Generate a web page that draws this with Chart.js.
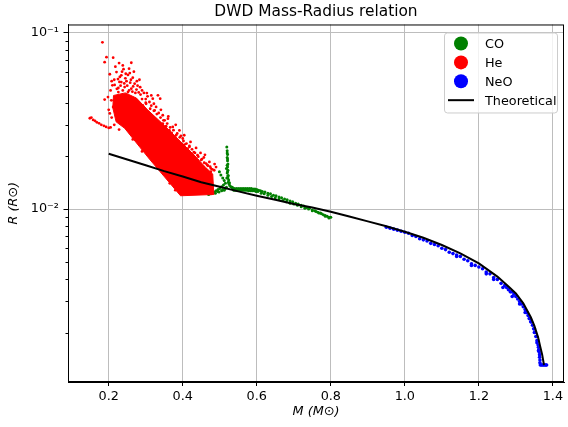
<!DOCTYPE html>
<html>
<head>
<meta charset="utf-8">
<title>DWD Mass-Radius relation</title>
<script src="https://cdn.jsdelivr.net/npm/chart.js@4.4.0/dist/chart.umd.min.js"></script>
<style>
  body { margin: 0; background: #fff; }
  #wrap { width: 568px; height: 427px; }
</style>
</head>
<body>
<div id="wrap"><canvas id="mr-chart" width="568" height="427"></canvas></div>
<script>
// tick labels
var massTicks = [0.2, 0.4, 0.6, 0.8, 1.0, 1.2, 1.4];
var radiusMajor = [0.01, 0.1];
var radiusTicks = [0.002, 0.003, 0.004, 0.005, 0.006, 0.007, 0.008, 0.009, 0.01,
                   0.02, 0.03, 0.04, 0.05, 0.06, 0.07, 0.08, 0.09, 0.1];

// Theoretical curve [M, R]
var theoryCurve = [
  [0.200, 0.0206], [0.250, 0.0191], [0.300, 0.0177], [0.350, 0.0164], [0.400, 0.0153],
  [0.450, 0.0142], [0.500, 0.0134], [0.550, 0.0126], [0.600, 0.0119], [0.650, 0.0113],
  [0.700, 0.0107], [0.750, 0.0102], [0.800, 0.00966], [0.850, 0.00908], [0.900, 0.00852],
  [0.950, 0.00800], [1.000, 0.00745], [1.050, 0.00688], [1.100, 0.00626], [1.150, 0.00562],
  [1.200, 0.00493], [1.250, 0.00415], [1.280, 0.00365], [1.300, 0.00333], [1.320, 0.00293],
  [1.340, 0.00245], [1.350, 0.00218], [1.360, 0.00188], [1.366, 0.00166], [1.371, 0.00150],
  [1.376, 0.00131]
];

// He: dense core outline [M, R]
var heCore = [
  [0.213, 0.0440], [0.245, 0.0455], [0.275, 0.0425], [0.305, 0.0365], [0.350, 0.0298],
  [0.395, 0.0240], [0.433, 0.0200], [0.462, 0.0172], [0.481, 0.0158], [0.484, 0.0121],
  [0.394, 0.0119], [0.310, 0.0192], [0.243, 0.0287], [0.220, 0.0312], [0.211, 0.0375],
  [0.213, 0.0440]
];

// He: scattered stars [M, R]
var hePoints = [
  [0.183, 0.088], [0.194, 0.0725], [0.189, 0.0679], [0.212, 0.0720], [0.228, 0.0671],
  [0.238, 0.0651], [0.261, 0.0674], [0.255, 0.0624], [0.221, 0.0597], [0.234, 0.0572],
  [0.246, 0.0584], [0.257, 0.0589], [0.283, 0.0540], [0.270, 0.0513], [0.234, 0.0524],
  [0.210, 0.0502], [0.243, 0.0491], [0.261, 0.0481], [0.303, 0.0454], [0.333, 0.0441],
  [0.339, 0.0422], [0.319, 0.0422], [0.189, 0.0417], [0.198, 0.0431], [0.214, 0.0413],
  [0.292, 0.0387], [0.310, 0.0404], [0.328, 0.0379], [0.225, 0.0545], [0.248, 0.0530],
  [0.265, 0.0555], [0.278, 0.0500], [0.290, 0.0470], [0.226, 0.0485], [0.252, 0.0460],
  [0.272, 0.0455], [0.240, 0.0620], [0.218, 0.0640], [0.286, 0.0445], [0.300, 0.0420],
  [0.315, 0.0440], [0.205, 0.0470], [0.215, 0.0540], [0.203, 0.0580],
  [0.222, 0.0480], [0.232, 0.0500], [0.242, 0.0515], [0.250, 0.0500], [0.258, 0.0520],
  [0.266, 0.0495], [0.275, 0.0475], [0.285, 0.0490], [0.295, 0.0455], [0.305, 0.0435],
  [0.230, 0.0560], [0.245, 0.0550], [0.260, 0.0540], [0.268, 0.0600], [0.276, 0.0530],
  [0.236, 0.0600], [0.252, 0.0575], [0.208, 0.0530], [0.216, 0.0505], [0.226, 0.0460],
  [0.238, 0.0470], [0.255, 0.0470], [0.264, 0.0462], [0.281, 0.0458], [0.229, 0.0525],
  [0.301, 0.0395], [0.324, 0.0362], [0.346, 0.0340], [0.360, 0.0325], [0.346, 0.0305],
  [0.373, 0.0292], [0.391, 0.0279], [0.382, 0.0262], [0.400, 0.0251], [0.378, 0.0246],
  [0.409, 0.0211], [0.418, 0.0211], [0.396, 0.0225], [0.427, 0.0197], [0.440, 0.0189],
  [0.445, 0.0181], [0.454, 0.0173], [0.463, 0.0166], [0.476, 0.0170], [0.440, 0.0202],
  [0.490, 0.0173], [0.431, 0.0181], [0.418, 0.0225], [0.351, 0.0318], [0.364, 0.0279],
  [0.413, 0.0220], [0.463, 0.0181], [0.476, 0.0163], [0.423, 0.0189], [0.485, 0.0166],
  [0.335, 0.0350], [0.312, 0.0370], [0.355, 0.0295], [0.370, 0.0270], [0.388, 0.0240],
  [0.405, 0.0232], [0.452, 0.0192], [0.468, 0.0176], [0.430, 0.0210], [0.395, 0.0260],
  [0.290, 0.0420], [0.300, 0.0400], [0.315, 0.0385], [0.322, 0.0360], [0.330, 0.0345],
  [0.340, 0.0330], [0.348, 0.0318], [0.358, 0.0305], [0.366, 0.0290], [0.375, 0.0280],
  [0.385, 0.0268], [0.392, 0.0255], [0.402, 0.0243], [0.410, 0.0235], [0.418, 0.0228],
  [0.425, 0.0218], [0.433, 0.0208], [0.442, 0.0198], [0.450, 0.0190], [0.458, 0.0183],
  [0.466, 0.0178], [0.474, 0.0174], [0.480, 0.0168], [0.472, 0.0185], [0.457, 0.0196],
  [0.436, 0.0222], [0.421, 0.0240], [0.404, 0.0262], [0.381, 0.0300], [0.361, 0.0335],
  [0.341, 0.0365], [0.322, 0.0395], [0.448, 0.0208], [0.486, 0.0180], [0.460, 0.0203],
  [0.149, 0.0327], [0.153, 0.0330], [0.158, 0.0320], [0.163, 0.0316], [0.168, 0.0310],
  [0.174, 0.0306], [0.180, 0.0300], [0.187, 0.0296], [0.193, 0.0292], [0.200, 0.0288],
  [0.205, 0.0290], [0.207, 0.0413], [0.212, 0.0379], [0.203, 0.0348], [0.224, 0.0431],
  [0.200, 0.0365], [0.208, 0.0330], [0.215, 0.0300], [0.228, 0.0282], [0.265, 0.0248],
  [0.290, 0.0212], [0.335, 0.0170], [0.365, 0.0140], [0.380, 0.0128]
];

// CO stars [M, R]
var coPoints = [
  [0.519, 0.0225], [0.520, 0.0214], [0.521, 0.0204], [0.520, 0.0196], [0.521, 0.0188],
  [0.522, 0.0180], [0.521, 0.0173], [0.522, 0.0166], [0.520, 0.0160], [0.523, 0.0155],
  [0.522, 0.0150], [0.524, 0.0146], [0.523, 0.0142], [0.525, 0.0139], [0.527, 0.0136],
  [0.530, 0.0134], [0.534, 0.0133], [0.518, 0.0170], [0.519, 0.0150], [0.526, 0.0141],
  [0.520, 0.0208], [0.521, 0.0192], [0.520, 0.0177], [0.521, 0.0163], [0.522, 0.0154],
  [0.499, 0.0163], [0.503, 0.0156], [0.508, 0.0150], [0.512, 0.0145], [0.515, 0.0140],
  [0.510, 0.0137], [0.505, 0.0134], [0.500, 0.0131], [0.495, 0.0129], [0.490, 0.0127],
  [0.485, 0.0125], [0.481, 0.0124], [0.494, 0.0126], [0.508, 0.0129], [0.515, 0.0131],
  [0.470, 0.0121], [0.476, 0.0122], [0.488, 0.0123], [0.498, 0.0125], [0.505, 0.0127],
  [0.512, 0.0128], [0.518, 0.0133],
  [0.535, 0.0131], [0.540, 0.0131], [0.545, 0.0131], [0.550, 0.0131], [0.555, 0.0131],
  [0.560, 0.0131], [0.565, 0.0131], [0.570, 0.0131], [0.575, 0.0131], [0.580, 0.0131],
  [0.585, 0.0131], [0.590, 0.0130], [0.595, 0.0130], [0.600, 0.0129], [0.605, 0.0128],
  [0.538, 0.0128], [0.543, 0.0128], [0.548, 0.0128], [0.553, 0.0128], [0.558, 0.0128],
  [0.563, 0.0128], [0.568, 0.0128], [0.573, 0.0128], [0.578, 0.0127], [0.583, 0.0127],
  [0.588, 0.0127], [0.593, 0.0127], [0.598, 0.0126], [0.603, 0.0126],
  [0.610, 0.0127], [0.615, 0.0126], [0.622, 0.0125], [0.630, 0.0123], [0.637, 0.0122],
  [0.645, 0.0120], [0.652, 0.0119], [0.660, 0.0117], [0.667, 0.0116], [0.675, 0.0114],
  [0.682, 0.0113], [0.690, 0.0111], [0.697, 0.0110], [0.705, 0.0108], [0.712, 0.0107],
  [0.720, 0.0105], [0.727, 0.0104], [0.735, 0.0102], [0.742, 0.0101], [0.750, 0.0099],
  [0.757, 0.0098], [0.765, 0.0096], [0.772, 0.0095], [0.780, 0.0093], [0.785, 0.0092],
  [0.790, 0.0091], [0.795, 0.0090], [0.800, 0.0090],
  [0.612, 0.0123], [0.620, 0.0122], [0.630, 0.0120], [0.640, 0.0118], [0.650, 0.0116],
  [0.660, 0.0114], [0.670, 0.0112], [0.680, 0.0110], [0.690, 0.0108], [0.700, 0.0107],
  [0.710, 0.0105], [0.720, 0.0103], [0.730, 0.0101], [0.740, 0.0100], [0.750, 0.0098],
  [0.760, 0.0097], [0.768, 0.0095], [0.775, 0.0094], [0.785, 0.0091], [0.795, 0.0089]
];

// NeO stars [M, R]
var neoPoints = [
  [0.95, 0.0079], [0.96, 0.0078], [0.97, 0.0077], [0.98, 0.0076], [0.99, 0.0075],
  [1.00, 0.0074], [1.01, 0.0073], [1.02, 0.0071], [1.03, 0.0070], [1.04, 0.0068],
  [1.05, 0.0067], [1.06, 0.0066], [1.07, 0.0064], [1.08, 0.0063], [1.09, 0.0062],
  [1.10, 0.0060], [1.11, 0.0059], [1.12, 0.0057], [1.13, 0.0056], [1.14, 0.0055],
  [1.15, 0.0054], [1.16, 0.0052], [1.17, 0.0051], [1.18, 0.0049], [1.19, 0.0048],
  [1.20, 0.0047], [1.21, 0.0046], [1.22, 0.0044], [1.23, 0.0043], [1.24, 0.0041],
  [1.25, 0.0040], [1.26, 0.0038], [1.27, 0.0037], [1.275, 0.0036], [1.28, 0.0035],
  [1.285, 0.0034], [1.29, 0.0034], [1.295, 0.0033], [1.30, 0.0032], [1.305, 0.0031],
  [1.31, 0.0030], [1.315, 0.0029], [1.32, 0.0028], [1.325, 0.0027], [1.328, 0.0026],
  [1.33, 0.0026], [1.333, 0.0025], [1.336, 0.0024], [1.339, 0.0024], [1.342, 0.0023],
  [1.345, 0.0022], [1.348, 0.0021], [1.350, 0.0021], [1.352, 0.0020], [1.354, 0.0019],
  [1.356, 0.0019], [1.357, 0.0018], [1.359, 0.0018], [1.360, 0.0017], [1.361, 0.00165],
  [1.362, 0.0016], [1.363, 0.00155], [1.364, 0.0015], [1.364, 0.00145], [1.365, 0.0014],
  [1.365, 0.00135], [1.366, 0.00131], [1.369, 0.00131], [1.372, 0.00131], [1.375, 0.00131],
  [1.378, 0.00131], [1.381, 0.00131], [1.383, 0.00131],
  [1.14, 0.0054], [1.18, 0.0048], [1.22, 0.0043], [1.24, 0.0040], [1.265, 0.0036],
  [1.29, 0.0032], [1.31, 0.0029], [1.325, 0.0026], [1.34, 0.0023], [1.35, 0.0020],
  [1.357, 0.00175], [1.361, 0.00158]
];

var legendItems = [
  { label: 'CO', color: 'green', kind: 'dot' },
  { label: 'He', color: 'red', kind: 'dot' },
  { label: 'NeO', color: 'blue', kind: 'dot' },
  { label: 'Theoretical', color: 'black', kind: 'line' }
];

var FONT = 'DejaVu Sans';

function toXY(pts) {
  return pts.map(function (p) { return { x: p[0], y: p[1] }; });
}
function isMajor(v) {
  return radiusMajor.some(function (m) { return Math.abs(v - m) < 1e-9; });
}

// axes frame, log tick marks and matplotlib-like legend box
var framePlugin = {
  id: 'frame',
  afterDraw: function (chart) {
    var ctx = chart.ctx, a = chart.chartArea, ys = chart.scales.y;
    ctx.save();
    ctx.strokeStyle = '#000';
    ctx.lineWidth = 1;
    ctx.strokeRect(a.left + 0.5, a.top + 0.5, a.right - a.left - 1, a.bottom - a.top - 1);

    // y tick marks: long for decades, short for minor
    radiusTicks.forEach(function (v) {
      var py = Math.round(ys.getPixelForValue(v)) + 0.5;
      var len = isMajor(v) ? 4.5 : 2.5;
      ctx.beginPath();
      ctx.moveTo(a.left - len, py);
      ctx.lineTo(a.left, py);
      ctx.stroke();
    });

    var bx = a.right - 120, by = a.top + 8, bw = 113, bh = 80;
    ctx.beginPath();
    ctx.roundRect(bx + 0.5, by + 0.5, bw, bh, 3);
    ctx.fillStyle = 'rgba(255,255,255,0.8)';
    ctx.fill();
    ctx.strokeStyle = '#cccccc';
    ctx.stroke();

    ctx.font = '12.8px "' + FONT + '"';
    ctx.textBaseline = 'middle';
    ctx.textAlign = 'left';
    legendItems.forEach(function (it, i) {
      var cy = by + 11 + i * 18.9;
      var cx = bx + 17;
      if (it.kind === 'dot') {
        ctx.beginPath();
        ctx.arc(cx, cy, 7, 0, Math.PI * 2);
        ctx.fillStyle = it.color;
        ctx.fill();
      } else {
        ctx.beginPath();
        ctx.moveTo(cx - 13, cy);
        ctx.lineTo(cx + 13, cy);
        ctx.strokeStyle = it.color;
        ctx.lineWidth = 2;
        ctx.stroke();
      }
      ctx.fillStyle = '#000';
      ctx.fillText(it.label, bx + 41, cy + 1);
    });
    ctx.restore();
  }
};

new Chart(document.getElementById("mr-chart"), {
  type: 'line',
  data: {
    datasets: [
      {
        label: 'Theoretical',
        data: toXY(theoryCurve),
        borderColor: '#000',
        borderWidth: 2,
        pointRadius: 0,
        tension: 0,
        fill: false
      },
      {
        label: 'NeO',
        data: toXY(neoPoints),
        showLine: false,
        pointRadius: 1.8,
        pointBorderWidth: 0,
        pointBackgroundColor: 'blue'
      },
      {
        label: 'He',
        data: toXY(hePoints),
        showLine: false,
        pointRadius: 1.4,
        pointBorderWidth: 0,
        pointBackgroundColor: 'red'
      },
      {
        label: 'He core',
        data: toXY(heCore),
        borderColor: 'red',
        backgroundColor: 'red',
        borderWidth: 1,
        pointRadius: 0,
        tension: 0,
        fill: 'shape'
      },
      {
        label: 'CO',
        data: toXY(coPoints),
        showLine: false,
        pointRadius: 1.5,
        pointBorderWidth: 0,
        pointBackgroundColor: 'green'
      }
    ]
  },
  options: {
    responsive: false,
    animation: false,
    layout: { padding: { left: 0, right: 2, top: 0, bottom: 0 } },
    plugins: {
      legend: { display: false },
      tooltip: { enabled: false },
      title: {
        display: true,
        text: 'DWD Mass-Radius relation',
        fullSize: false,
        color: '#000',
        font: { family: FONT, size: 15.4, weight: 'normal' },
        padding: { top: 3, bottom: 3 }
      }
    },
    scales: {
      x: {
        type: 'linear',
        min: 0.09,
        max: 1.43,
        afterBuildTicks: function (s) { s.ticks = massTicks.map(function (v) { return { value: v }; }); },
        afterFit: function (s) { s.height = 45; },
        ticks: {
          autoSkip: false,
          maxRotation: 0,
          padding: 3,
          color: '#000',
          font: { family: FONT, size: 12.8 },
          callback: function (v) { return Number(v).toFixed(1); }
        },
        grid: { color: '#bdbdbd', lineWidth: 1, tickLength: 4, tickColor: '#000' },
        border: { color: '#000', width: 1 },
        title: {
          display: true,
          text: 'M (M⊙)',
          color: '#000',
          font: { family: FONT, size: 12.8, style: 'italic' },
          padding: { top: 0, bottom: 8 }
        }
      },
      y: {
        type: 'logarithmic',
        min: 0.00105,
        max: 0.111,
        afterBuildTicks: function (s) { s.ticks = radiusTicks.map(function (v) { return { value: v }; }); },
        afterFit: function (s) { s.width = 68; },
        ticks: {
          autoSkip: false,
          padding: 9,
          color: '#000',
          font: { family: FONT, size: 12.8 },
          callback: function (v) {
            if (Math.abs(v - 0.1) < 1e-9) return '10\u207B\u00B9';
            if (Math.abs(v - 0.01) < 1e-9) return '10\u207B\u00B2';
            return '';
          }
        },
        grid: {
          color: function (c) { return c.tick && isMajor(c.tick.value) ? '#bdbdbd' : 'rgba(0,0,0,0)'; },
          lineWidth: 1,
          drawTicks: false
        },
        border: { color: '#000', width: 1 },
        title: {
          display: true,
          text: 'R (R⊙)',
          color: '#000',
          font: { family: FONT, size: 12.8, style: 'italic' },
          padding: { top: 6, bottom: 0 }
        }
      }
    }
  },
  plugins: [framePlugin]
});
</script>
</body>
</html>
